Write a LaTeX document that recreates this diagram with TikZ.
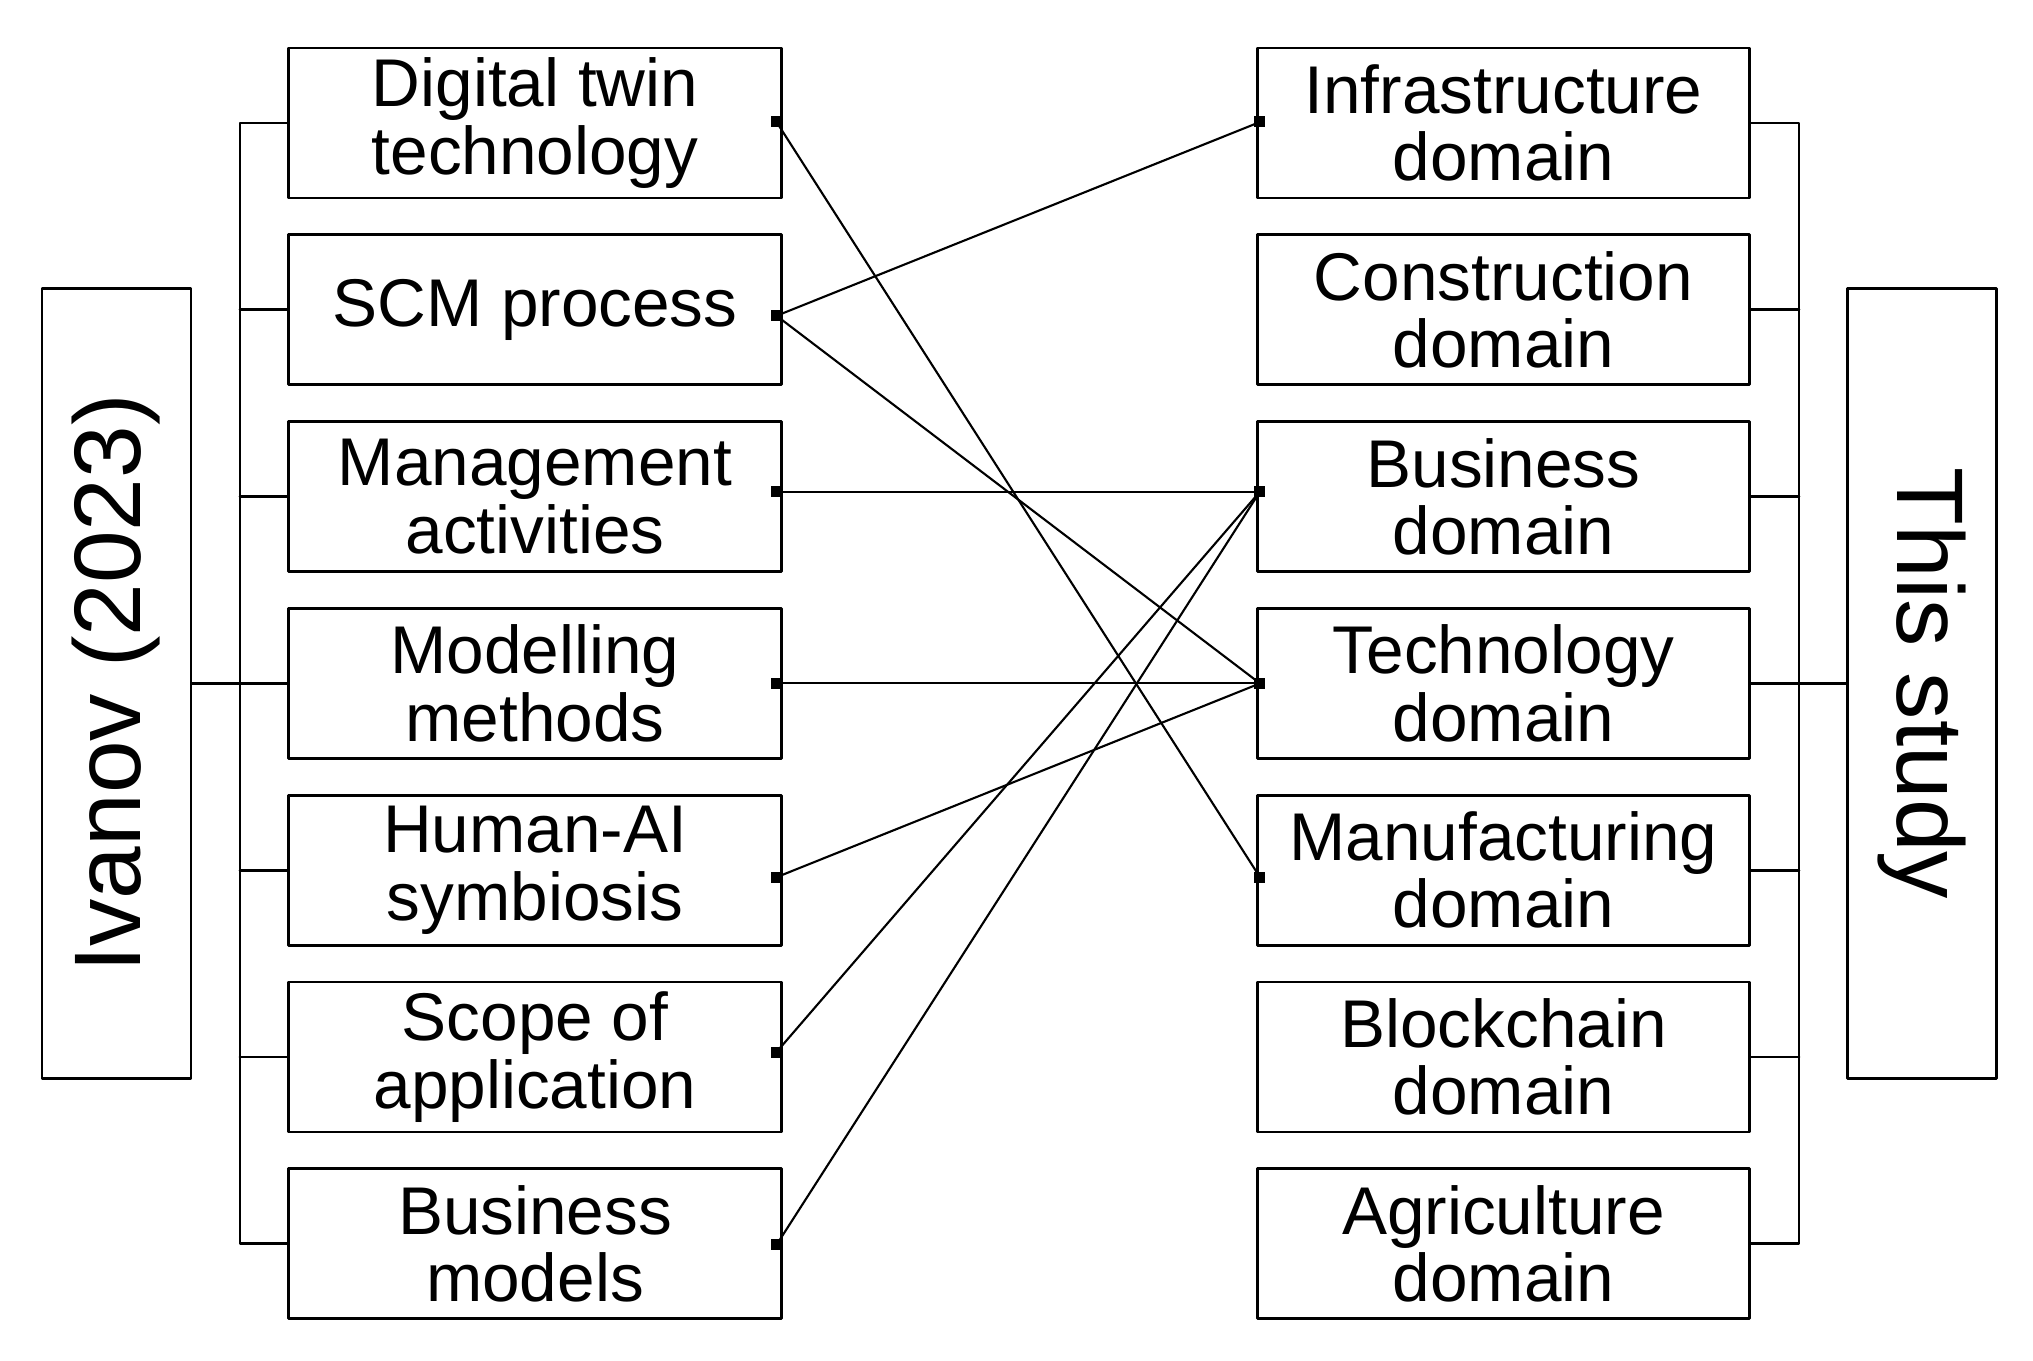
\documentclass[tikz,border=0pt]{standalone}
\usepackage{fontspec}
\setmainfont{Liberation Sans}
\usepackage{tikz}

\begin{document}
\begin{tikzpicture}[line cap=round,line join=round,x=0.01cm,y=-0.01cm,
    topic/.style={draw, line width=0.8pt, minimum width=4.92cm, minimum height=1.5cm,
      inner sep=0pt, align=center, font=\fontsize{19.2}{19.1}\selectfont},
    source/.style={draw, line width=0.8pt, minimum width=7.89cm, minimum height=1.49cm,
      inner sep=0pt, font=\fontsize{26.9}{30}\selectfont},
    tree/.style={line width=0.8pt},
    link/.style={line width=0.6pt}]
      \useasboundingbox (0,0) rectangle (2033,1361);

      % Ivanov (2023) and its topics
      \node[source, rotate=90] (ivanov) at (116.5,683.5) {Ivanov (2023)};
      \node[topic] (dt)    at (535,123)    {Digital twin\\technology};
      \node[topic] (scm)   at (535,309.8)  {SCM process};
      \node[topic] (mgmt)  at (535,496.6)  {Management\\activities};
      \node[topic] (model) at (535,683.4)  {Modelling\\methods};
      \node[topic] (hai)   at (535,870.2)  {Human-AI\\symbiosis};
      \node[topic] (scope) at (535,1057)   {Scope of\\application};
      \node[topic] (bm)    at (535,1243.8) {Business\\models};

      % this study and its domains
      \node[source, rotate=-90] (study) at (1922,683.5) {This study};
      \node[topic] (infra)  at (1503.5,123)    {Infrastructure\\domain};
      \node[topic] (constr) at (1503.5,309.8)  {Construction\\domain};
      \node[topic] (busi)   at (1503.5,496.6)  {Business\\domain};
      \node[topic] (tech)   at (1503.5,683.4)  {Technology\\domain};
      \node[topic] (manu)   at (1503.5,870.2)  {Manufacturing\\domain};
      \node[topic] (block)  at (1503.5,1057)   {Blockchain\\domain};
      \node[topic] (agri)   at (1503.5,1243.8) {Agriculture\\domain};

      % left tree
      \coordinate (ltree) at (240,0);
      \draw[tree] (dt.west) -- (dt.west -| ltree) -- (bm.west -| ltree) -- (bm.west);
      \draw[tree] (scm.west) -- (scm.west -| ltree);
      \draw[tree] (mgmt.west) -- (mgmt.west -| ltree);
      \draw[tree] (model.west) -- (model.west -| ltree);
      \draw[tree] (hai.west) -- (hai.west -| ltree);
      \draw[tree] (scope.west) -- (scope.west -| ltree);
      \draw[tree] (ivanov.south) -- (ivanov.south -| ltree);

      % right tree
      \coordinate (rtree) at (1799,0);
      \draw[tree] (infra.east) -- (infra.east -| rtree) -- (agri.east -| rtree) -- (agri.east);
      \draw[tree] (constr.east) -- (constr.east -| rtree);
      \draw[tree] (busi.east) -- (busi.east -| rtree);
      \draw[tree] (tech.east) -- (tech.east -| rtree);
      \draw[tree] (manu.east) -- (manu.east -| rtree);
      \draw[tree] (block.east) -- (block.east -| rtree);
      \draw[tree] (study.south) -- (study.south -| rtree);

      % link ends
      \coordinate (dtR)    at ([shift={(-6,-1)}]dt.east);
      \coordinate (scmR)   at ([shift={(-6,6)}]scm.east);
      \coordinate (mgmtR)  at ([shift={(-6,-5)}]mgmt.east);
      \coordinate (modelR) at ([shift={(-6,0)}]model.east);
      \coordinate (haiR)   at ([shift={(-6,7)}]hai.east);
      \coordinate (scopeR) at ([shift={(-6,-5)}]scope.east);
      \coordinate (bmR)    at ([shift={(-6,1)}]bm.east);
      \coordinate (infraL) at ([shift={(4,-1)}]infra.west);
      \coordinate (busiL)  at ([shift={(4,-5)}]busi.west);
      \coordinate (techL)  at ([shift={(4,0)}]tech.west);
      \coordinate (manuL)  at ([shift={(4,7)}]manu.west);

      % links
      \draw[link] (dtR) -- (manuL);
      \draw[link] (scmR) -- (infraL);
      \draw[link] (scmR) -- (techL);
      \draw[link] (mgmtR) -- (busiL);
      \draw[link] (modelR) -- (techL);
      \draw[link] (haiR) -- (techL);
      \draw[link] (scopeR) -- (busiL);
      \draw[link] (bmR) -- (busiL);

      % dots
      \foreach \p in {dtR,scmR,mgmtR,modelR,haiR,scopeR,bmR,infraL,busiL,techL,manuL}
        \fill ([shift={(-5.5,-5.5)}]\p) rectangle ([shift={(5.5,5.5)}]\p);
\end{tikzpicture}
\end{document}
